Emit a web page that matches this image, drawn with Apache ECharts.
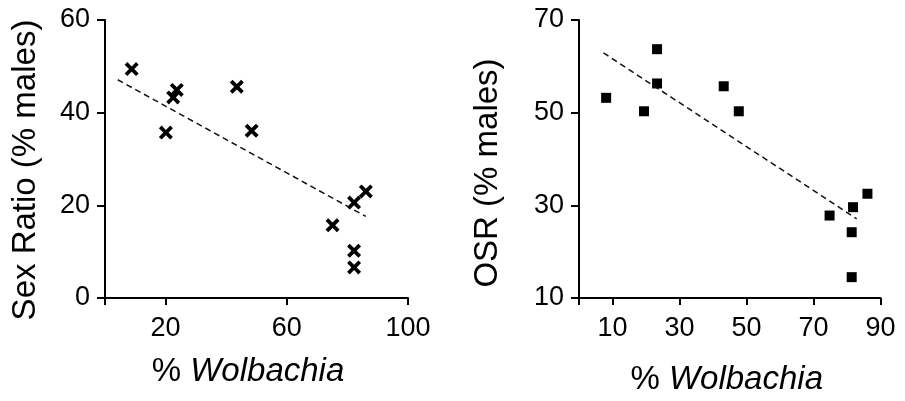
<!DOCTYPE html>
<html>
<head>
<meta charset="utf-8">
<script src="https://cdn.jsdelivr.net/npm/echarts@6/dist/echarts.min.js"></script>
<style>
html,body{margin:0;padding:0;background:#fff;}
#c{width:905px;height:401px;}
</style>
</head>
<body>
<div id="c"></div>
<script>
// Left panel: Sex ratio vs % Wolbachia
const leftX = [8.8, 20.1, 22.5, 23.7, 43.5, 48.4, 75.1, 82.2, 86.1, 82.2, 82.2];
const leftY = [49.4, 35.7, 43.3, 44.9, 45.6, 36.1, 15.7, 20.6, 23.0, 10.2, 6.6];
const leftTrendX = [4.2, 86.1];
const leftTrendY = [47.1, 17.6];
const leftXTicks = [0, 20, 60, 100];
const leftXLabels = [20, 60, 100];
const leftYTicks = [0, 20, 40, 60];

// Right panel: OSR vs % Wolbachia
const rightX = [8.1, 19.4, 23.3, 23.3, 43.2, 47.7, 74.8, 81.8, 86.1, 81.4, 81.4];
const rightY = [53.2, 50.3, 63.7, 56.3, 55.7, 50.3, 27.8, 29.6, 32.5, 24.2, 14.5];
const rightTrendX = [7.3, 82.9];
const rightTrendY = [62.9, 27.1];
const rightXTicks = [0, 10, 30, 50, 70, 90];
const rightXLabels = [10, 30, 50, 70, 90];
const rightYTicks = [10, 30, 50, 70];

const leftTitleY = 'Sex Ratio (% males)';
const rightTitleY = 'OSR (% males)';
const titleXPrefix = '% ';
const titleXItalic = 'Wolbachia';

const FONT = '"Liberation Sans", Arial, Helvetica, sans-serif';
const pairs = (xs, ys) => xs.map((x, i) => [x, ys[i]]);
const XPATH = 'path://M0,1.9 L1.9,0 L5,3.1 L8.1,0 L10,1.9 L6.9,5 L10,8.1 L8.1,10 L5,6.9 L1.9,10 L0,8.1 L3.1,5 Z';

function xAxisCfg(gi, max, ticks, labels) {
  return {
    type: 'value', gridIndex: gi, min: 0, max: max,
    splitLine: {show: false},
    axisLine: {show: true, onZero: false, lineStyle: {color: '#000', width: 2}},
    axisTick: {show: true, length: 7, customValues: ticks, lineStyle: {color: '#000', width: 2}},
    axisLabel: {customValues: labels, color: '#000', fontSize: 27, fontFamily: FONT, margin: 17}
  };
}
function yAxisCfg(gi, min, max, ticks) {
  return {
    type: 'value', gridIndex: gi, min: min, max: max, interval: 20,
    splitLine: {show: false},
    axisLine: {show: true, onZero: false, lineStyle: {color: '#000', width: 2}},
    axisTick: {show: true, length: 8, customValues: ticks, lineStyle: {color: '#000', width: 2}},
    axisLabel: {customValues: ticks, color: '#000', fontSize: 27, fontFamily: FONT, margin: 15}
  };
}

const chart = echarts.init(document.getElementById('c'), null, {renderer: 'canvas'});
chart.setOption({
  animation: false,
  backgroundColor: '#fff',
  grid: [
    {left: 105, top: 20, width: 303, height: 278},
    {left: 579, top: 20, width: 301.5, height: 278}
  ],
  xAxis: [xAxisCfg(0, 100, leftXTicks, leftXLabels), xAxisCfg(1, 90, rightXTicks, rightXLabels)],
  yAxis: [yAxisCfg(0, 0, 60, leftYTicks), yAxisCfg(1, 10, 70, rightYTicks)],
  series: [
    {type: 'line', xAxisIndex: 0, yAxisIndex: 0, data: pairs(leftTrendX, leftTrendY), showSymbol: false, silent: true,
     lineStyle: {color: '#111', width: 1.5, type: [6, 4]}},
    {type: 'scatter', xAxisIndex: 0, yAxisIndex: 0, data: pairs(leftX, leftY), symbol: XPATH, symbolSize: 14,
     itemStyle: {color: '#000', opacity: 1}},
    {type: 'line', xAxisIndex: 1, yAxisIndex: 1, data: pairs(rightTrendX, rightTrendY), showSymbol: false, silent: true,
     lineStyle: {color: '#111', width: 1.5, type: [6, 4]}},
    {type: 'scatter', xAxisIndex: 1, yAxisIndex: 1, data: pairs(rightX, rightY), symbol: 'rect', symbolSize: 10,
     itemStyle: {color: '#000', opacity: 1}}
  ],
  graphic: [
    {type: 'text', x: 25.5, y: 170, rotation: Math.PI / 2,
     style: {text: leftTitleY, font: '33px ' + FONT, fill: '#000', textAlign: 'center', textVerticalAlign: 'middle'}},
    {type: 'text', x: 488, y: 173, rotation: Math.PI / 2,
     style: {text: rightTitleY, font: '33px ' + FONT, fill: '#000', textAlign: 'center', textVerticalAlign: 'middle'}},
    {type: 'text', x: 248, y: 371.5,
     style: {text: '{n|' + titleXPrefix + '}{i|' + titleXItalic + '}', textAlign: 'center', textVerticalAlign: 'middle',
       rich: {n: {fontSize: 33, fontFamily: FONT, fill: '#000', color: '#000'}, i: {fontSize: 33, fontFamily: FONT, fontStyle: 'italic', fill: '#000', color: '#000'}}}},
    {type: 'text', x: 726.7, y: 380,
     style: {text: '{n|' + titleXPrefix + '}{i|' + titleXItalic + '}', textAlign: 'center', textVerticalAlign: 'middle',
       rich: {n: {fontSize: 33, fontFamily: FONT, fill: '#000', color: '#000'}, i: {fontSize: 33, fontFamily: FONT, fontStyle: 'italic', fill: '#000', color: '#000'}}}}
  ]
});
</script>
</body>
</html>
